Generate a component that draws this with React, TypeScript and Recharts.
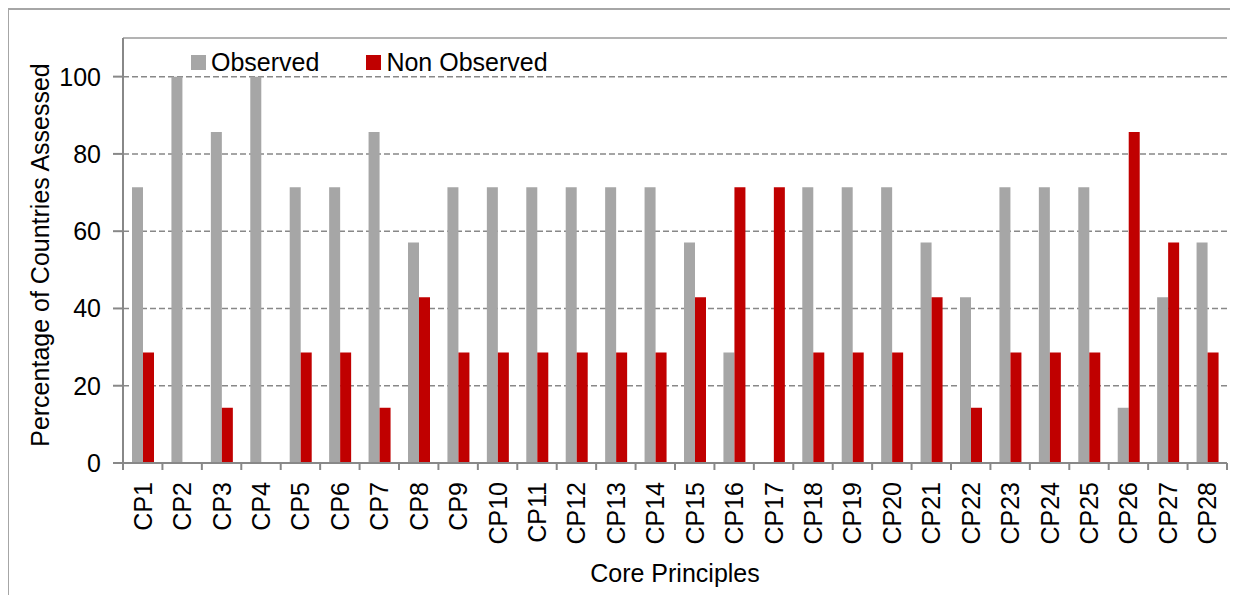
import {
  Bar,
  BarChart,
  CartesianGrid,
  Legend,
  ReferenceLine,
  XAxis,
  YAxis,
} from "recharts";

const principles = [
  "CP1", "CP2", "CP3", "CP4", "CP5", "CP6", "CP7", "CP8", "CP9", "CP10",
  "CP11", "CP12", "CP13", "CP14", "CP15", "CP16", "CP17", "CP18", "CP19", "CP20",
  "CP21", "CP22", "CP23", "CP24", "CP25", "CP26", "CP27", "CP28",
];

const observed = [
  71.4, 100, 85.7, 100, 71.4, 71.4, 85.7, 57.1, 71.4, 71.4,
  71.4, 71.4, 71.4, 71.4, 57.1, 28.6, 0, 71.4, 71.4, 71.4,
  57.1, 42.9, 71.4, 71.4, 71.4, 14.3, 42.9, 57.1,
];

const nonObserved = [
  28.6, 0, 14.3, 0, 28.6, 28.6, 14.3, 42.9, 28.6, 28.6,
  28.6, 28.6, 28.6, 28.6, 42.9, 71.4, 71.4, 28.6, 28.6, 28.6,
  42.9, 14.3, 28.6, 28.6, 28.6, 85.7, 57.1, 28.6,
];

const yTicks = [0, 20, 40, 60, 80, 100];
const seriesOrder = ["observed", "nonObserved"];

const data = principles.map((name, i) => ({
  name,
  observed: observed[i],
  nonObserved: nonObserved[i],
}));

const AXIS = "#888888";
const FRAME = "#b3b3b3";
const FS = 25;

const CategoryTick = (props: any) => {
  const { x, y, payload, index } = props;
  const half = payload?.offset ?? 19.7;
  const last = index === principles.length - 1;
  return (
    <g>
      <line x1={x - half} x2={x - half} y1={y} y2={y + 7} stroke={AXIS} strokeWidth={2} />
      {last && (
        <line x1={x + half} x2={x + half} y1={y} y2={y + 7} stroke={AXIS} strokeWidth={2} />
      )}
      <text
        x={x}
        y={y + 19}
        dy="0.36em"
        transform={`rotate(-90, ${x}, ${y + 19})`}
        textAnchor="end"
        fontSize={FS}
        fill="#000"
      >
        {payload.value}
      </text>
    </g>
  );
};

const LegendBox = (props: any) => {
  const items = [...(props.payload || [])].sort(
    (a: any, b: any) => seriesOrder.indexOf(a.dataKey) - seriesOrder.indexOf(b.dataKey)
  );
  return (
    <div style={{ display: "flex", alignItems: "center", fontSize: FS, color: "#000" }}>
      {items.map((p: any, i: number) => (
        <div
          key={`leg-${i}`}
          style={{ display: "flex", alignItems: "center", marginRight: i === 0 ? 47 : 0 }}
        >
          <span style={{ width: 15, height: 15, background: p.color, marginRight: 5 }} />
          <span>{p.value}</span>
        </div>
      ))}
    </div>
  );
};

const App = () => {
  return (
    <div
      style={{
        position: "relative",
        width: 1230,
        height: 587,
        overflow: "hidden",
        fontFamily: "'Liberation Sans', Arial, sans-serif",
      }}
    >
      <div
        style={{
          position: "absolute",
          left: -1,
          top: 0,
          width: 1260,
          height: 620,
          border: "2px solid #a6a6a6",
          boxSizing: "border-box",
        }}
      />
      <BarChart
        width={1230}
        height={587}
        data={data}
        barSize={11}
        barGap={0}
        margin={{ top: 30, right: 11, left: 0, bottom: 13 }}
        style={{ position: "absolute", left: 0, top: 0 }}
      >
        <CartesianGrid
          vertical={false}
          stroke={AXIS}
          strokeDasharray="6 3"
          strokeWidth={1.5}
          horizontalValues={[20, 40, 60, 80, 100]}
        />
        <ReferenceLine y={110} stroke={FRAME} strokeWidth={2} />
        <XAxis
          dataKey="name"
          height={119}
          interval={0}
          tickLine={false}
          tickSize={0}
          tickMargin={0}
          axisLine={{ stroke: AXIS, strokeWidth: 2 }}
          tick={<CategoryTick />}
          label={{
            content: (p: any) => {
              const vb = p.viewBox;
              return (
                <text
                  x={vb.x + vb.width / 2}
                  y={vb.y + 110}
                  textAnchor="middle"
                  dominantBaseline="central"
                  fontSize={FS}
                  fill="#000"
                >
                  Core Principles
                </text>
              );
            },
          }}
        />
        <YAxis
          width={115}
          domain={[0, 110]}
          ticks={yTicks}
          interval={0}
          tickSize={10}
          tickMargin={12}
          axisLine={{ stroke: AXIS, strokeWidth: 2 }}
          tickLine={{ stroke: AXIS, strokeWidth: 2 }}
          tick={{ fill: "#000", fontSize: FS }}
          label={{
            content: () => (
              <text
                x={32}
                y={247}
                transform="rotate(-90, 32, 247)"
                textAnchor="middle"
                dominantBaseline="central"
                fontSize={FS}
                fill="#000"
              >
                Percentage of Countries Assessed
              </text>
            ),
          }}
        />
        <YAxis
          yAxisId="frame"
          orientation="right"
          width={0}
          tick={false}
          tickLine={false}
          axisLine={{ stroke: FRAME, strokeWidth: 2 }}
        />
        <Legend
          layout="vertical"
          verticalAlign="middle"
          align="center"
          content={<LegendBox />}
          wrapperStyle={{ position: "absolute", top: 40, left: 183, width: "auto" }}
        />
        <Bar dataKey="observed" name="Observed" fill="#a6a6a6" isAnimationActive={false} />
        <Bar dataKey="nonObserved" name="Non Observed" fill="#c00000" isAnimationActive={false} />
      </BarChart>
    </div>
  );
};

export default App;
